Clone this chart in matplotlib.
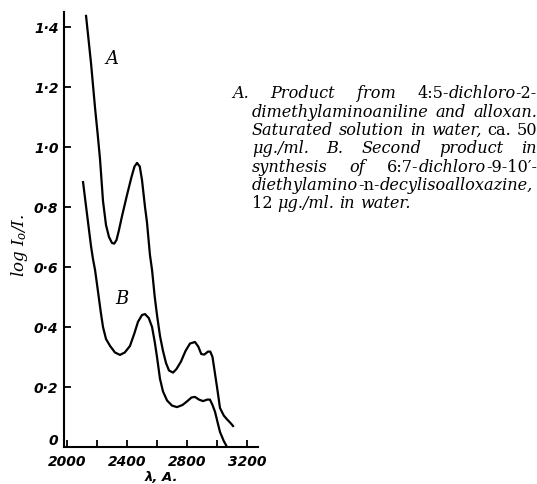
import matplotlib
matplotlib.use("Agg")
import matplotlib.pyplot as plt

# curve A
wavelength_a = [2127, 2160, 2187, 2205, 2220, 2240, 2260, 2280, 2300, 2315,
                2330, 2345, 2367, 2400, 2430, 2450, 2467, 2485, 2500, 2520,
                2533, 2553, 2567, 2585, 2600, 2620, 2640, 2660, 2680, 2707,
                2730, 2760, 2790, 2820, 2853, 2875, 2895, 2915, 2940, 2955,
                2970, 2985, 3000, 3020, 3045, 3067, 3090, 3107]
absorb_a = [1.437, 1.28, 1.13, 1.04, 0.96, 0.82, 0.74, 0.70, 0.68, 0.678,
            0.69, 0.72, 0.77, 0.84, 0.90, 0.935, 0.947, 0.935, 0.89, 0.80,
            0.75, 0.64, 0.59, 0.50, 0.44, 0.37, 0.32, 0.28, 0.255, 0.248,
            0.26, 0.285, 0.32, 0.345, 0.35, 0.335, 0.31, 0.308, 0.318, 0.318,
            0.30, 0.25, 0.20, 0.13, 0.105, 0.092, 0.08, 0.07]

# curve B
wavelength_b = [2107, 2125, 2140, 2160, 2173, 2187, 2207, 2225, 2240, 2260,
                2287, 2320, 2353, 2385, 2420, 2450, 2473, 2500, 2520, 2545,
                2567, 2585, 2600, 2620, 2640, 2667, 2700, 2733, 2770, 2800,
                2830, 2853, 2880, 2907, 2935, 2953, 2970, 2987, 3005, 3020,
                3045, 3067]
absorb_b = [0.883, 0.81, 0.75, 0.67, 0.627, 0.59, 0.517, 0.45, 0.40, 0.36,
            0.337, 0.315, 0.307, 0.315, 0.337, 0.38, 0.417, 0.44, 0.443, 0.43,
            0.40, 0.35, 0.30, 0.227, 0.185, 0.155, 0.138, 0.133, 0.14, 0.152,
            0.165, 0.167, 0.158, 0.153, 0.158, 0.158, 0.14, 0.117, 0.08, 0.05,
            0.02, 0.0]

x_ticks = [2000, 2400, 2800, 3200]
x_minor = [2200, 2600, 3000]
y_ticks = [0, 0.2, 0.4, 0.6, 0.8, 1.0, 1.2, 1.4]
y_tick_labels = ["0", "0·2", "0·4", "0·6", "0·8", "1·0", "1·2", "1·4"]

# {...} marks upright type, the rest is italic
caption_lines = [
    "A. Product from {4:5-}dichloro{-2-}",
    "dimethylaminoaniline and alloxan.",
    "Saturated solution in water, {ca. 50}",
    "μg./ml. B. Second product in",
    "synthesis of {6:7-}dichloro{-9-10′-}",
    "diethylamino{-n-}decylisoalloxazine,",
    "{12} μg./ml. in water.",
]

plt.rcParams["mathtext.fontset"] = "dejavuserif"

W, H = 537, 485
fig = plt.figure(figsize=(W / 100, H / 100), dpi=100)
ax = fig.add_axes([64 / W, 37 / H, 193.5 / W, 435 / H])

ax.plot(wavelength_a, absorb_a, color="black", lw=1.6, solid_joinstyle="round")
ax.plot(wavelength_b, absorb_b, color="black", lw=1.6, solid_joinstyle="round")

ax.set_xlim(1980, 3270)
ax.set_ylim(0, 1.45)
for s in ["top", "right"]:
    ax.spines[s].set_visible(False)
for s in ["left", "bottom"]:
    ax.spines[s].set_linewidth(1.5)

tick_font = dict(family="DejaVu Sans", style="italic", weight="bold", size=10)
ax.set_xticks(x_ticks)
ax.set_xticklabels([str(t) for t in x_ticks], **tick_font)
ax.set_xticks(x_minor, minor=True)
ax.set_yticks(y_ticks)
ax.set_yticklabels(y_tick_labels, **tick_font)
ax.tick_params(which="both", direction="in", length=5, width=1.3)
ax.tick_params(axis="x", pad=5)
ax.tick_params(axis="y", pad=4)
# the "0" sits just above the x axis, clear of the 2000 label
ax.get_yticklabels()[0].set_verticalalignment("bottom")

ax.text(2253, 1.28, "A", fontsize=13, style="italic", family="DejaVu Serif")
ax.text(2320, 0.48, "B", fontsize=13, style="italic", family="DejaVu Serif")

fig.text(20 / W, 1 - 245 / H, r"log $I_o$/$I$.", rotation=90, ha="center",
         va="center", fontsize=12, style="italic", family="DejaVu Serif")
fig.text(161 / W, 1 - 471 / H, "λ, A.", ha="center", va="top",
         family="DejaVu Sans", style="italic", weight="bold", size=9.5)


def parse(line):
    # split a caption line into words, each a list of (text, upright)
    words, upright = [], False
    for raw in line.split(" "):
        segs, cur = [], ""
        for ch in raw:
            if ch in "{}":
                if cur:
                    segs.append((cur, upright))
                cur = ""
                upright = ch == "{"
            else:
                cur += ch
        if cur:
            segs.append((cur, upright))
        words.append(segs)
    return words


renderer = fig.canvas.get_renderer()
cap_size = 11.6
baselines = [98, 117, 135, 153, 172, 190, 208]
for i, line in enumerate(caption_lines):
    x0 = 232 if i == 0 else 252
    x1 = 537
    y = 1 - baselines[i] / H
    placed = []
    for segs in parse(line):
        parts = []
        for txt, up in segs:
            t = fig.text(0, y, txt, va="baseline", fontsize=cap_size,
                         family="DejaVu Serif",
                         style="normal" if up else "italic")
            w = t.get_window_extent(renderer).width
            parts.append((t, w))
        placed.append(parts)
    widths = [sum(w for _, w in p) for p in placed]
    if i == len(caption_lines) - 1:
        gap = 5
    else:
        gap = (x1 - x0 - sum(widths)) / (len(placed) - 1)
    x = x0
    for parts in placed:
        for t, w in parts:
            t.set_x(x / W)
            x += w
        x += gap

fig.savefig("out.png", dpi=100)
